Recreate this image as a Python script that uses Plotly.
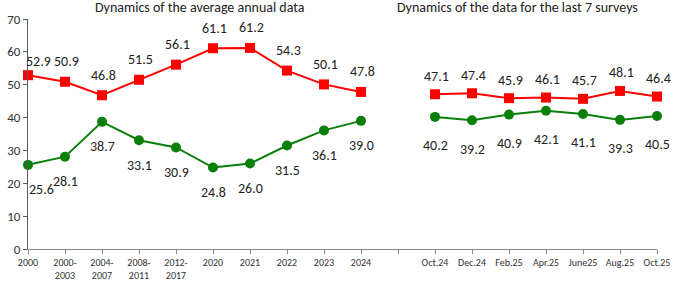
import plotly.graph_objects as go

categories = ["2000", "2000-<br>2003", "2004-<br>2007", "2008-<br>2011", "2012-<br>2017",
              "2020", "2021", "2022", "2023", "2024", "",
              "Oct.24", "Dec.24", "Feb.25", "Apr.25", "June25", "Aug.25", "Oct.25"]
red_values = [52.9, 50.9, 46.8, 51.5, 56.1, 61.1, 61.2, 54.3, 50.1, 47.8, None,
              47.1, 47.4, 45.9, 46.1, 45.7, 48.1, 46.4]
green_values = [25.6, 28.1, 38.7, 33.1, 30.9, 24.8, 26.0, 31.5, 36.1, 39.0, None,
                40.2, 39.2, 40.9, 42.1, 41.1, 39.3, 40.5]
y_ticks = [0, 10, 20, 30, 40, 50, 60, 70]
title_left = "Dynamics of the average annual data"
title_right = "Dynamics of the data for the last 7 surveys"

FONT = "Carlito, Lato, sans-serif"
RED = "#FF0000"
GREEN = "#0A7F0A"
x = list(range(len(categories)))

def fmt(v):
    return f"{v:.1f}"

fig = go.Figure()
fig.add_trace(go.Scatter(
    x=x, y=red_values, mode="lines+markers",
    line=dict(color=RED, width=2),
    marker=dict(symbol="square", size=10, color=RED),
    cliponaxis=False, connectgaps=False, showlegend=False, hoverinfo="skip",
))
fig.add_trace(go.Scatter(
    x=x, y=green_values, mode="lines+markers",
    line=dict(color=GREEN, width=2),
    marker=dict(symbol="circle", size=10, color=GREEN),
    cliponaxis=False, connectgaps=False, showlegend=False, hoverinfo="skip",
))

annotations = []
for i, (xv, rv, gv) in enumerate(zip(x, red_values, green_values)):
    first = i == 0
    right_block = i > 10
    if rv is not None:
        annotations.append(dict(
            x=xv, y=rv, xref="x", yref="y", text=fmt(rv), showarrow=False,
            xanchor="center", yanchor="middle",
            xshift=10 if first else 1, yshift=14 if first else (18 if right_block else 20),
            font=dict(family=FONT, size=14, color="#222")))
    if gv is not None:
        annotations.append(dict(
            x=xv, y=gv, xref="x", yref="y", text=fmt(gv), showarrow=False,
            xanchor="center", yanchor="middle",
            xshift=13 if first else 0, yshift=-29 if right_block else -25,
            font=dict(family=FONT, size=14, color="#222")))

annotations += [
    dict(text=title_left, x=0.273, y=1.0, yshift=12, xref="paper", yref="paper",
         showarrow=False, xanchor="center", yanchor="middle",
         font=dict(family=FONT, size=14, color="#222")),
    dict(text=title_right, x=0.779, y=1.0, yshift=12, xref="paper", yref="paper",
         showarrow=False, xanchor="center", yanchor="middle",
         font=dict(family=FONT, size=14, color="#222")),
]

fig.update_layout(
    width=675, height=281,
    margin=dict(l=28, r=18, t=19, b=32),
    paper_bgcolor="white", plot_bgcolor="white",
    font=dict(family=FONT, color="#333"),
    hovermode=False,
    xaxis=dict(
        range=[0, len(categories) - 1], automargin=False, fixedrange=True,
        tickmode="array", tickvals=x, ticktext=categories,
        showline=True, linecolor="#8c8c8c", linewidth=1,
        ticks="outside", ticklen=4, tickcolor="#8c8c8c",
        showgrid=False, zeroline=False,
        tickfont=dict(family=FONT, size=10, color="#333"),
    ),
    yaxis=dict(
        range=[0, 70], tickvals=y_ticks, automargin=False, fixedrange=True,
        showline=True, linecolor="#595959", linewidth=1,
        ticks="outside", ticklen=4, tickcolor="#595959",
        showgrid=False, zeroline=False,
        tickfont=dict(family=FONT, size=13, color="#333"),
    ),
    annotations=annotations,
)

fig.write_html(
    "out.html",
    config={"displayModeBar": False, "staticPlot": True},
    post_script="document.body.style.margin='0px';document.body.style.overflow='hidden';",
)
